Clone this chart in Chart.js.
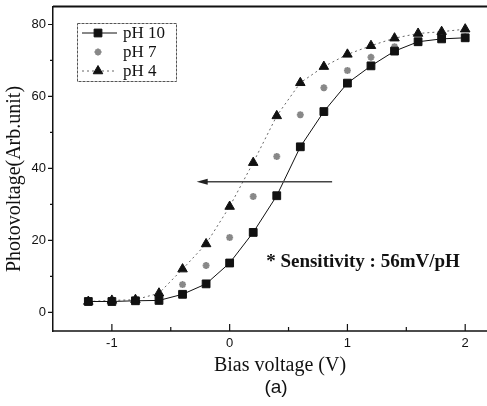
<!DOCTYPE html>
<html>
<head>
<meta charset="utf-8">
<script src="https://cdn.jsdelivr.net/npm/chart.js@4"></script>
<style>
  html, body { margin: 0; padding: 0; background: #fff; }
  #wrap { width: 487px; height: 406px; }
</style>
</head>
<body>
<div id="wrap"><canvas id="chart" width="487" height="406"></canvas></div>
<script>
// values
const biasV = [-1.2, -1.0, -0.8, -0.6, -0.4, -0.2, 0, 0.2, 0.4, 0.6, 0.8, 1.0, 1.2, 1.4, 1.6, 1.8, 2.0];
const pH10 = [3.0, 3.0, 3.2, 3.3, 5.0, 7.9, 13.7, 22.2, 32.4, 46.0, 55.8, 63.7, 68.5, 72.6, 75.2, 76.0, 76.3];
const pH7 = [3.0, 3.0, 3.1, 3.2, 7.7, 13.0, 20.8, 32.2, 43.3, 54.9, 62.4, 67.2, 70.9, 73.8, 75.2, 76.2, 76.6];
const pH4 = [3.0, 3.3, 3.5, 5.3, 12.0, 19.0, 29.4, 41.6, 54.6, 63.8, 68.3, 71.7, 74.1, 76.2, 77.5, 78.0, 78.7];
const seriesLabels = ['pH 10', 'pH 7', 'pH 4'];

const xTicks = [-1, 0, 1, 2];
const xMinor = [-0.5, 0.5, 1.5];
const yTicks = [0, 20, 40, 60, 80];
const yMinor = [10, 30, 50, 70];

// arrow (shift of the curve) in data units
const arrowFrom = [0.87, 36.3];
const arrowTo = [-0.28, 36.3];
const noteText = '* Sensitivity : 56mV/pH';

const pts = arr => biasV.map((x, i) => ({ x: x, y: arr[i] }));

// extra drawing: frame, tick marks, arrow, note, legend, titles
const extras = {
  id: 'extras',
  afterDraw(chart) {
    const ctx = chart.ctx;
    const xs = chart.scales.x, ys = chart.scales.y;
    const a = chart.chartArea;
    ctx.save();

    // frame: top line and bottom axis run out to the edge of the picture
    ctx.strokeStyle = '#111';
    ctx.lineWidth = 2;
    ctx.beginPath();
    ctx.moveTo(a.left, a.top);
    ctx.lineTo(chart.width, a.top);
    ctx.stroke();
    ctx.lineWidth = 1.5;
    ctx.beginPath();
    ctx.moveTo(a.left, a.bottom);
    ctx.lineTo(chart.width, a.bottom);
    ctx.stroke();

    // tick marks
    ctx.lineWidth = 1.2;
    ctx.beginPath();
    xTicks.forEach(v => {
      const px = xs.getPixelForValue(v);
      ctx.moveTo(px, a.bottom); ctx.lineTo(px, a.bottom - 7);
    });
    xMinor.forEach(v => {
      const px = xs.getPixelForValue(v);
      ctx.moveTo(px, a.bottom); ctx.lineTo(px, a.bottom - 4);
    });
    yTicks.forEach(v => {
      const py = ys.getPixelForValue(v);
      ctx.moveTo(a.left, py); ctx.lineTo(a.left - 5, py);
    });
    yMinor.forEach(v => {
      const py = ys.getPixelForValue(v);
      ctx.moveTo(a.left, py); ctx.lineTo(a.left - 3, py);
    });
    ctx.stroke();

    // arrow
    const ax1 = xs.getPixelForValue(arrowFrom[0]), ay1 = ys.getPixelForValue(arrowFrom[1]);
    const ax2 = xs.getPixelForValue(arrowTo[0]), ay2 = ys.getPixelForValue(arrowTo[1]);
    ctx.strokeStyle = '#444';
    ctx.fillStyle = '#222';
    ctx.lineWidth = 1.5;
    ctx.beginPath();
    ctx.moveTo(ax1, ay1); ctx.lineTo(ax2 + 6, ay2);
    ctx.stroke();
    ctx.beginPath();
    ctx.moveTo(ax2, ay2);
    ctx.lineTo(ax2 + 11, ay2 - 3);
    ctx.lineTo(ax2 + 11, ay2 + 3);
    ctx.closePath();
    ctx.fill();

    // note
    ctx.fillStyle = '#111';
    ctx.font = 'bold 19px "Liberation Serif", serif';
    ctx.textAlign = 'left';
    ctx.textBaseline = 'middle';
    ctx.fillText(noteText, xs.getPixelForValue(0.31), ys.getPixelForValue(14));

    // legend
    const lx = 77, ly = 23, lw = 99, lh = 58;
    ctx.strokeStyle = '#555';
    ctx.lineWidth = 1;
    ctx.setLineDash([3, 1]);
    ctx.strokeRect(lx + 0.5, ly + 0.5, lw, lh);
    ctx.setLineDash([]);
    const rows = [33, 52, 71];
    chart.data.datasets.forEach((ds, i) => {
      const yy = rows[i];
      if (ds.showLine !== false) {
        ctx.strokeStyle = ds.borderColor;
        ctx.lineWidth = ds.borderWidth;
        ctx.setLineDash(ds.borderDash || []);
        ctx.beginPath();
        ctx.moveTo(82, yy); ctx.lineTo(117, yy);
        ctx.stroke();
        ctx.setLineDash([]);
      }
      ctx.fillStyle = ds.pointBackgroundColor;
      ctx.strokeStyle = ds.pointBorderColor;
      ctx.lineWidth = ds.pointBorderWidth;
      Chart.helpers.drawPoint(ctx, {
        pointStyle: ds.pointStyle, radius: ds.pointRadius, rotation: 0,
        borderWidth: ds.pointBorderWidth
      }, 98, yy);
      ctx.fillStyle = '#111';
      ctx.font = '17px "Liberation Serif", serif';
      ctx.textAlign = 'left';
      ctx.textBaseline = 'middle';
      ctx.fillText(ds.label, 123, yy + 1);
    });

    // axis titles and panel label
    ctx.fillStyle = '#111';
    ctx.textAlign = 'center';
    ctx.textBaseline = 'middle';
    ctx.font = '20px "Liberation Serif", serif';
    ctx.fillText('Bias voltage (V)', 280, 366);
    ctx.font = '19px "Liberation Sans", Arial, sans-serif';
    ctx.fillText('(a)', 276, 388);
    ctx.translate(15, 179);
    ctx.rotate(-Math.PI / 2);
    ctx.font = '20px "Liberation Serif", serif';
    ctx.fillText('Photovoltage(Arb.unit)', 0, 0);

    ctx.restore();
  }
};

const ctx = document.getElementById('chart').getContext('2d');
new Chart(ctx, {
  type: 'scatter',
  data: {
    datasets: [{
      label: seriesLabels[0],
      data: pts(pH10),
      showLine: true,
      borderColor: '#111',
      borderWidth: 1,
      tension: 0,
      pointStyle: 'rect',
      pointRadius: 5.5,
      pointBackgroundColor: '#111',
      pointBorderColor: '#111',
      pointBorderWidth: 1
    }, {
      label: seriesLabels[1],
      data: pts(pH7),
      showLine: false,
      borderColor: '#888',
      pointStyle: 'star',
      pointRadius: 3.5,
      pointBackgroundColor: '#888',
      pointBorderColor: '#888',
      pointBorderWidth: 2
    }, {
      label: seriesLabels[2],
      data: pts(pH4),
      showLine: true,
      borderColor: '#666',
      borderWidth: 1,
      borderDash: [2, 3],
      tension: 0,
      pointStyle: 'triangle',
      pointRadius: 5.5,
      pointBackgroundColor: '#111',
      pointBorderColor: '#111',
      pointBorderWidth: 1
    }]
  },
  options: {
    responsive: false,
    animation: false,
    devicePixelRatio: 1,
    layout: { padding: { top: 6, left: 0, right: 0, bottom: 0 } },
    plugins: { legend: { display: false }, tooltip: { enabled: false } },
    scales: {
      x: {
        type: 'linear',
        min: -1.5,
        max: 2.13,
        afterBuildTicks: s => { s.ticks = xTicks.map(v => ({ value: v })); },
        afterFit: s => { s.height = 75; s.paddingLeft = 0; s.paddingRight = 0; },
        grid: { display: false, drawTicks: false },
        border: { display: false },
        ticks: {
          padding: 5,
          color: '#111',
          font: { family: '"Liberation Sans", Arial, sans-serif', size: 13 }
        }
      },
      y: {
        min: -5.2,
        max: 85,
        afterBuildTicks: s => { s.ticks = yTicks.map(v => ({ value: v })); },
        afterFit: s => { s.width = 53; s.paddingTop = 0; s.paddingBottom = 0; },
        grid: { display: false, drawTicks: false },
        border: { display: true, color: '#111', width: 1.5 },
        ticks: {
          padding: 7,
          color: '#111',
          font: { family: '"Liberation Sans", Arial, sans-serif', size: 13 }
        }
      }
    }
  },
  plugins: [extras]
});
</script>
</body>
</html>
